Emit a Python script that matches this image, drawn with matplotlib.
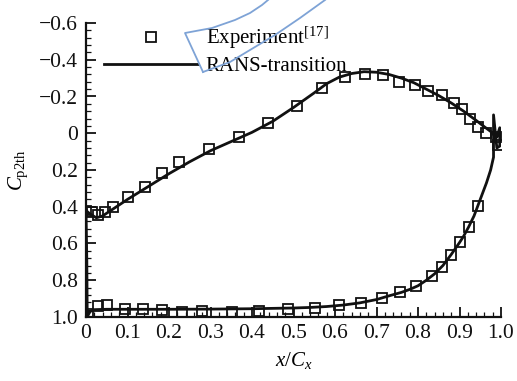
import matplotlib
matplotlib.use("Agg")
import matplotlib.pyplot as plt
from matplotlib.lines import Line2D
import numpy as np

plt.rcParams['font.family'] = ['Liberation Serif', 'DejaVu Serif']
plt.rcParams['mathtext.fontset'] = 'custom'
plt.rcParams['mathtext.rm'] = 'Liberation Serif'
plt.rcParams['mathtext.it'] = 'Liberation Serif:italic'
plt.rcParams['mathtext.bf'] = 'Liberation Serif:bold'

# Experiment, suction side
exp_ss_x = [0.0, 0.014, 0.030, 0.046, 0.064, 0.102, 0.142, 0.184, 0.225, 0.297, 0.369,
            0.439, 0.508, 0.568, 0.624, 0.672, 0.716, 0.755, 0.793, 0.825, 0.857,
            0.887, 0.906, 0.925, 0.945, 0.964, 0.988, 0.992]
exp_ss_cp = [0.421, 0.427, 0.445, 0.427, 0.400, 0.348, 0.290, 0.219, 0.157, 0.088, 0.023,
             -0.056, -0.149, -0.246, -0.305, -0.324, -0.316, -0.280, -0.264, -0.231, -0.207,
             -0.164, -0.130, -0.076, -0.033, 0.0, 0.023, 0.066]
# Experiment, pressure side
exp_ps_x = [0.004, 0.030, 0.051, 0.095, 0.137, 0.184, 0.231, 0.279, 0.351, 0.418, 0.487,
            0.552, 0.609, 0.662, 0.713, 0.757, 0.796, 0.834, 0.857, 0.880, 0.900,
            0.922, 0.944]
exp_ps_cp = [0.984, 0.941, 0.935, 0.954, 0.957, 0.964, 0.971, 0.968, 0.972, 0.965, 0.957,
             0.953, 0.935, 0.923, 0.897, 0.864, 0.831, 0.776, 0.726, 0.660, 0.593,
             0.508, 0.398]

# RANS-transition closed loop (LE -> suction side -> TE -> pressure side -> LE)
rans_x = [0.0, 0.01, 0.025, 0.04, 0.06, 0.10, 0.15, 0.20, 0.25, 0.30, 0.35, 0.40, 0.45,
          0.50, 0.55, 0.58, 0.61, 0.64, 0.67, 0.70, 0.73, 0.76, 0.79, 0.82, 0.85, 0.88,
          0.91, 0.94, 0.96, 0.975, 0.99, 0.997, 0.997, 0.99, 0.982, 0.982,
          0.975, 0.965, 0.955, 0.945, 0.935, 0.922, 0.91, 0.90, 0.88, 0.86, 0.84, 0.82,
          0.80, 0.78, 0.76, 0.73, 0.70, 0.66, 0.62, 0.58, 0.54, 0.50, 0.45, 0.40, 0.30,
          0.20, 0.10, 0.05, 0.02, 0.01, 0.005, 0.003, 0.002, 0.0]
rans_cp = [0.42, 0.44, 0.46, 0.45, 0.42, 0.36, 0.29, 0.22, 0.155, 0.095, 0.045, -0.005, -0.065,
           -0.14, -0.22, -0.27, -0.305, -0.325, -0.335, -0.332, -0.32, -0.30, -0.275, -0.24, -0.205, -0.165,
           -0.12, -0.07, -0.035, -0.01, 0.02, -0.03, 0.07, 0.08, -0.10, 0.13,
           0.20, 0.27, 0.33, 0.39, 0.45, 0.51, 0.56, 0.595, 0.66, 0.72, 0.765, 0.80,
           0.83, 0.85, 0.866, 0.885, 0.905, 0.923, 0.935, 0.943, 0.948, 0.951, 0.953, 0.955, 0.957,
           0.958, 0.958, 0.958, 0.96, 0.97, 0.99, 1.0, 0.7, 0.42]

xticks = [0, 0.1, 0.2, 0.3, 0.4, 0.5, 0.6, 0.7, 0.8, 0.9, 1.0]
xticklabels = ['0', '0.1', '0.2', '0.3', '0.4', '0.5', '0.6', '0.7', '0.8', '0.9', '1.0']
yticks = [-0.6, -0.4, -0.2, 0, 0.2, 0.4, 0.6, 0.8, 1.0]
yticklabels = ['\u22120.6', '\u22120.4', '\u22120.2', '0', '0.2', '0.4', '0.6', '0.8', '1.0']

W, H = 517, 381
fig = plt.figure(figsize=(W / 100, H / 100), dpi=100)
ax = fig.add_axes([86 / W, 1 - 317 / H, (501 - 86) / W, (317 - 23) / H])

ax.plot(rans_x, rans_cp, color='#111111', lw=2.0, solid_joinstyle='round', zorder=3,
        label='RANS-transition')
ax.plot(exp_ss_x, exp_ss_cp, ls='none', marker='s', ms=6.5, mfc='none', mec='#111111',
        mew=1.3, zorder=4, label='Experiment$^{\\mathrm{[17]}}$')
ax.plot(exp_ps_x, exp_ps_cp, ls='none', marker='s', ms=6.5, mfc='none', mec='#111111',
        mew=1.3, zorder=4)

ax.set_xlim(0, 1.0)
ax.set_ylim(1.0, -0.6)
ax.set_xticks(xticks)
ax.set_xticklabels(xticklabels)
ax.set_yticks(yticks)
ax.set_yticklabels(yticklabels)
ax.set_xticks(np.arange(0, 1.0001, 0.02), minor=True)
ax.set_yticks(np.arange(-0.6, 1.0001, 0.04), minor=True)
ax.spines['top'].set_visible(False)
ax.spines['right'].set_visible(False)
for s in ['left', 'bottom']:
    ax.spines[s].set_linewidth(1.6)
    ax.spines[s].set_color('#111111')
ax.tick_params(which='major', direction='in', length=7, width=1.3, labelsize=15.5,
               colors='#111111', pad=5)
ax.tick_params(axis='y', which='major', pad=6)
ax.tick_params(which='minor', direction='in', length=3.5, width=0.9, colors='#111111')
ax.tick_params(axis='y', which='both', left=True, right=False)
ax.tick_params(axis='x', which='both', bottom=True, top=False)

ax.set_xlabel('$x$/$C_x$', fontsize=15, labelpad=5)
ax.set_ylabel('$C_{\\mathrm{p2th}}$', fontsize=15, labelpad=6)

handles, labels = ax.get_legend_handles_labels()
leg = ax.legend([handles[1], handles[0]], [labels[1], labels[0]],
                loc='upper left', bbox_to_anchor=(104 / W, 1 - 25 / H),
                bbox_transform=fig.transFigure, frameon=False, fontsize=15,
                handlelength=4.5, handletextpad=0.38, labelspacing=0.25,
                borderpad=0, borderaxespad=0)

# light blue overlay shape (as in the reference)
def px(points):
    xs = [p[0] / W for p in points]
    ys = [1 - p[1] / H for p in points]
    return xs, ys

blue = '#7ea3d6'
for pts in ([(203, 72), (185, 33), (212, 28), (235, 20), (250, 13), (262, 5), (268, 0)],
            [(203, 72), (230, 62), (250, 50), (275, 35), (300, 18), (325, 0)]):
    xs, ys = px(pts)
    fig.add_artist(Line2D(xs, ys, transform=fig.transFigure, color=blue, lw=1.3,
                          solid_joinstyle='round', zorder=0.5))

fig.savefig('out.png', dpi=100)
